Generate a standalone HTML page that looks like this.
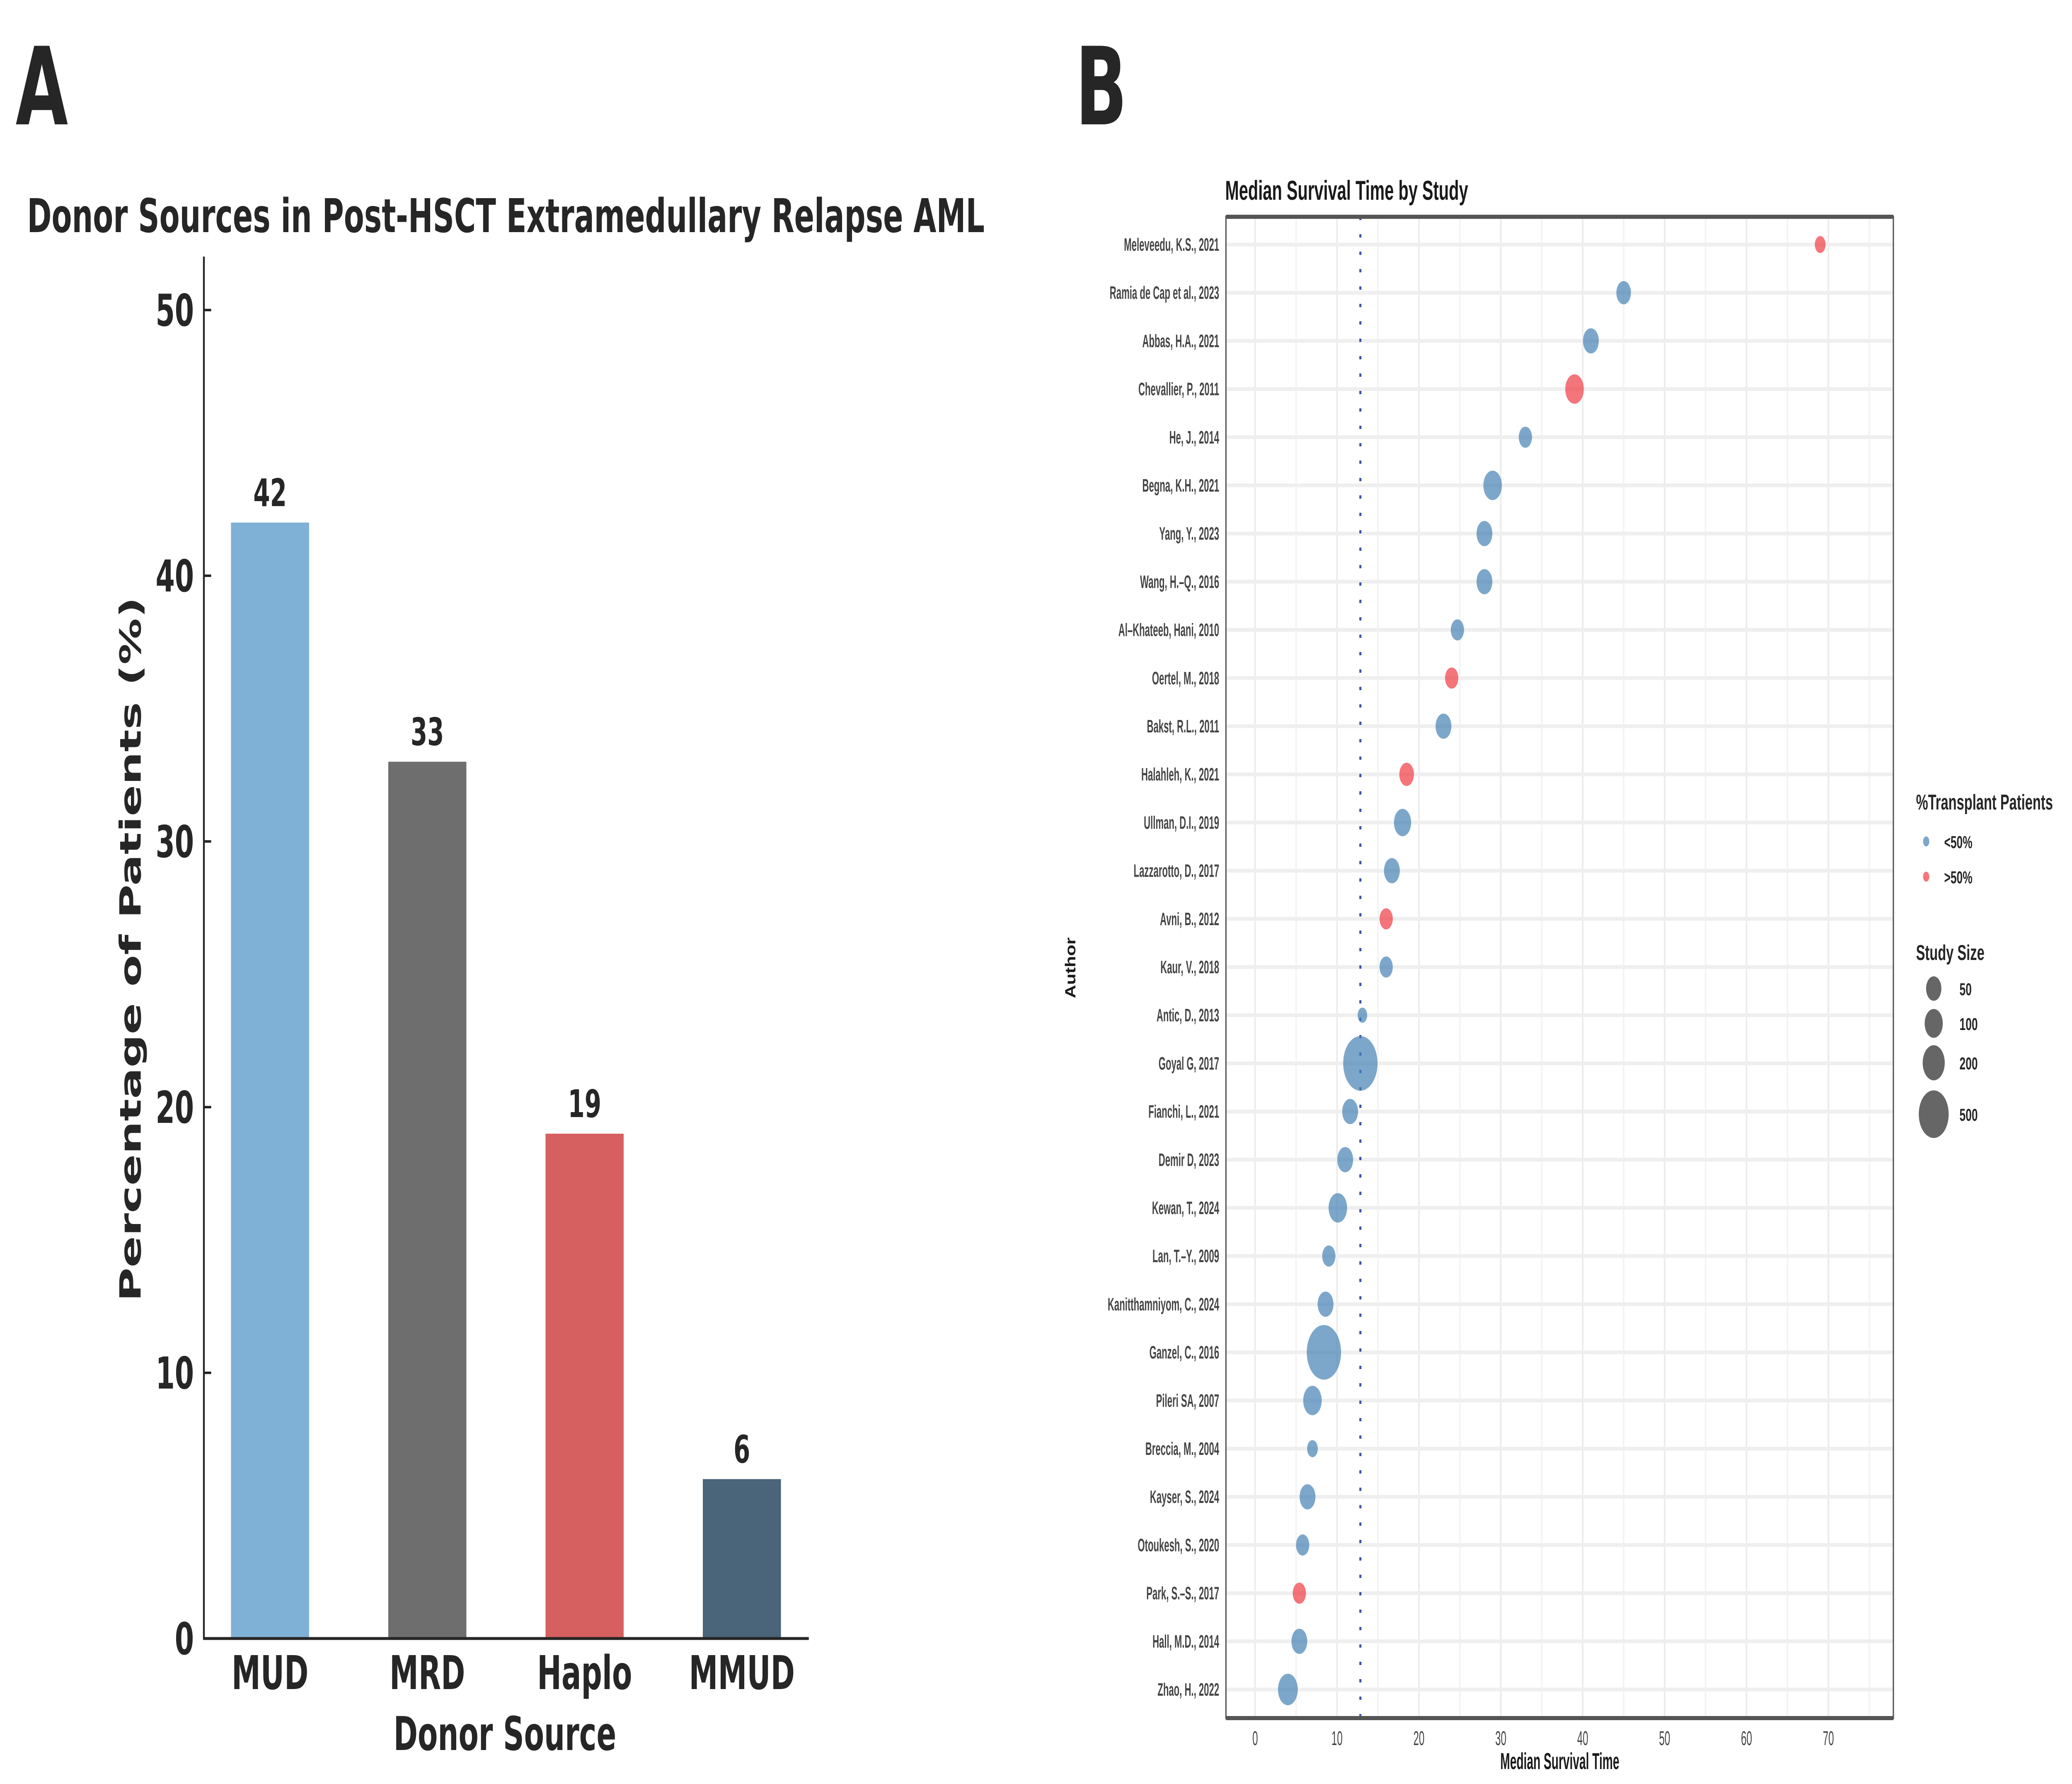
<!DOCTYPE html>
<html><head><meta charset="utf-8"><style>
html,body{margin:0;padding:0;background:#fff;overflow:hidden;width:100vw;height:100vh;}
svg{display:block;width:100vw;height:100vh;}
</style></head><body>
<svg id="fig" xmlns="http://www.w3.org/2000/svg" viewBox="0 0 7957 4304" preserveAspectRatio="none">
<rect width="7957" height="4304" fill="#fff"/>
<g id="panelA"></g>
<g id="panelB"></g>
</svg>
<script>
// ---- Panel A data ----
const donorCategories = ["MUD","MRD","Haplo","MMUD"];
const donorValues = [42,33,19,6];
const donorColors = ["#7fb0d6","#6e6e6e","#d65f5f","#4a6479"];
const aTicks = [0,10,20,30,40,50];

// ---- Panel B data ----
const authors = ["Meleveedu, K.S., 2021","Ramia de Cap et al., 2023","Abbas, H.A., 2021","Chevallier, P., 2011","He, J., 2014","Begna, K.H., 2021","Yang, Y., 2023","Wang, H.\u2013Q., 2016","Al\u2013Khateeb, Hani, 2010","Oertel, M., 2018","Bakst, R.L., 2011","Halahleh, K., 2021","Ullman, D.I., 2019","Lazzarotto, D., 2017","Avni, B., 2012","Kaur, V., 2018","Antic, D., 2013","Goyal G, 2017","Fianchi, L., 2021","Demir D, 2023","Kewan, T., 2024","Lan, T.\u2013Y., 2009","Kanitthamniyom, C., 2024","Ganzel, C., 2016","Pileri SA, 2007","Breccia, M., 2004","Kayser, S., 2024","Otoukesh, S., 2020","Park, S.\u2013S., 2017","Hall, M.D., 2014","Zhao, H., 2022"];
const survival = [69,45,41,39,33,29,28,28,24.7,24,23,18.5,18,16.7,16,16,13.1,12.85,11.6,11,10.1,9,8.6,8.4,7,7,6.4,5.8,5.4,5.4,4];
const studySize = [5,40,58,108,24,108,58,58,24,24,58,40,81,58,24,24,1,730,58,58,108,24,58,730,108,5,58,24,24,58,138];
const transplantGroup = [">50%","<50%","<50%",">50%","<50%","<50%","<50%","<50%","<50%",">50%","<50%",">50%","<50%","<50%",">50%","<50%","<50%","<50%","<50%","<50%","<50%","<50%","<50%","<50%","<50%","<50%","<50%","<50%",">50%","<50%","<50%"];
const medianLine = 12.85;
const bTicks = [0,10,20,30,40,50,60,70];
const sizeLegend = [50,100,200,500];

const NS = "http://www.w3.org/2000/svg";
function mk(parent, tag, attrs, text){
  const e = document.createElementNS(NS, tag);
  for (const k in attrs) e.setAttribute(k, attrs[k]);
  if (text !== undefined) e.textContent = text;
  parent.appendChild(e);
  return e;
}
const A = document.getElementById('panelA');
const B = document.getElementById('panelB');
const dj = "DejaVu Sans, Liberation Sans, sans-serif";
const nar = "Liberation Sans, DejaVu Sans, sans-serif";

// ===== Panel A =====
const ay = v => 3953 - v * 64.1;
const ax0 = 783, ax1 = 3106;
const barCenters = i => 1037 + i * 604;
let t;
t = mk(A,'text',{x:60,y:300,'font-family':dj,'font-weight':'bold','font-size':260,fill:'#262626'},'A');
 
t = mk(A,'text',{x:104,y:560,'font-family':dj,'font-weight':'bold','font-size':112,fill:'#262626',textLength:3677,lengthAdjust:'spacingAndGlyphs'},'Donor Sources in Post-HSCT Extramedullary Relapse AML');
 
donorValues.forEach((v,i)=>{
  const cx = barCenters(i);
  const r = mk(A,'rect',{x:cx-150,y:ay(v),width:300,height:ay(0)-ay(v),fill:donorColors[i]});
  
  
  const l = mk(A,'text',{x:cx,y:ay(v)-40,'text-anchor':'middle','font-family':dj,'font-weight':'bold','font-size':92,fill:'#262626'},String(v));
  
  
  const xl = mk(A,'text',{x:cx,y:4075,'text-anchor':'middle','font-family':dj,'font-weight':'bold','font-size':112,fill:'#262626'},donorCategories[i]);
  
  
});
t = mk(A,'line',{x1:ax0,y1:619,x2:ax0,y2:3955,stroke:'#262626','stroke-width':7});
 
t = mk(A,'line',{x1:ax0-3,y1:3953,x2:ax1,y2:3953,stroke:'#262626','stroke-width':7});
 
aTicks.forEach(v=>{
  const tk = mk(A,'line',{x1:ax0,y1:ay(v),x2:ax0+28,y2:ay(v),stroke:'#262626','stroke-width':6});
  
  
  const tl = mk(A,'text',{x:745,y:ay(v)+38,'text-anchor':'end','font-family':dj,'font-weight':'bold','font-size':106,fill:'#262626'},String(v));
  
  
});
t = mk(A,'text',{x:0,y:0,transform:'translate(540,2290) rotate(-90)','text-anchor':'middle','font-family':dj,'font-weight':'bold','font-size':112,fill:'#262626'},'Percentage of Patients (%)');
 
t = mk(A,'text',{x:1939,y:4222,'text-anchor':'middle','font-family':dj,'font-weight':'bold','font-size':112,fill:'#262626'},'Donor Source');
 

// ===== Panel B =====
const bx = v => 4820 + v * 31.45;
const by = i => 590 + i * 116.2;
const pL = 4708, pR = 7271, pT = 523, pB = 4145;
const sz = n => (33 + 3.66 * Math.sqrt(n)) / 2;
t = mk(B,'text',{x:4130,y:300,'font-family':dj,'font-weight':'bold','font-size':260,fill:'#262626'},'B');
 
t = mk(B,'text',{x:4705,y:482,'font-family':nar,'font-weight':'bold','font-size':66,fill:'#1a1a1a',textLength:933,lengthAdjust:'spacingAndGlyphs'},'Median Survival Time by Study');
 
for (let v=0; v<=75; v+=5){
  const g = mk(B,'line',{x1:bx(v),y1:pT,x2:bx(v),y2:pB,stroke:v%10===0?'#ebebeb':'#f3f3f3','stroke-width':6});
  
  
}
authors.forEach((a,i)=>{
  const g = mk(B,'line',{x1:pL,y1:by(i),x2:pR,y2:by(i),stroke:'#efefef','stroke-width':9});
  
  
});
t = mk(B,'line',{x1:bx(medianLine),y1:pT,x2:bx(medianLine),y2:pB,stroke:'#3f4fa8','stroke-width':8,'stroke-dasharray':'8 34'});
 
authors.forEach((a,i)=>{
  const red = transplantGroup[i] === ">50%";
  const c = mk(B,'circle',{cx:bx(survival[i]),cy:by(i),r:sz(studySize[i]),fill:red?'#ef3b42':'#4682b4','fill-opacity':0.7});
  
  
  const l = mk(B,'text',{transform:'translate(4682,'+(by(i)+15)+') scale(0.8,1)','text-anchor':'end','font-family':nar,'font-weight':'bold','font-size':44,fill:'#444'},a);
  
  
});
t = mk(B,'rect',{x:pL,y:pT,width:pR-pL,height:pB-pT,fill:'none',stroke:'#555','stroke-width':5});
 
t = mk(B,'line',{x1:pL,y1:pT,x2:pR,y2:pT,stroke:'#555','stroke-width':10});
 
t = mk(B,'line',{x1:pL,y1:pB,x2:pR,y2:pB,stroke:'#555','stroke-width':10});
 
bTicks.forEach(v=>{
  const l = mk(B,'text',{transform:'translate('+bx(v)+',4210) scale(0.8,1)','text-anchor':'middle','font-family':nar,'font-size':48,fill:'#444'},String(v));
  
  
});
t = mk(B,'text',{transform:'translate(5990,4268) scale(0.8,1)','text-anchor':'middle','font-family':nar,'font-weight':'bold','font-size':56,fill:'#1a1a1a'},'Median Survival Time');
 
t = mk(B,'text',{transform:'translate(4130,2335) rotate(-90) scale(0.8,1)','text-anchor':'middle','font-family':nar,'font-weight':'bold','font-size':56,fill:'#1a1a1a'},'Author');
 
t = mk(B,'text',{x:7358,y:1953,'font-family':nar,'font-weight':'bold','font-size':52,fill:'#262626'},'%Transplant Patients');
 
[["<50%","#4682b4",2030],[">50%","#ef3b42",2115]].forEach(d=>{
  const c = mk(B,'circle',{cx:7397,cy:d[2],r:12,fill:d[1],'fill-opacity':0.7});
  
  
  const l = mk(B,'text',{x:7466,y:d[2]+16,'font-family':nar,'font-weight':'bold','font-size':42,fill:'#262626'},d[0]);
  
  
});
t = mk(B,'text',{x:7358,y:2316,'font-family':nar,'font-weight':'bold','font-size':52,fill:'#262626'},'Study Size');
 
const legY = [2385,2469,2564,2688];
sizeLegend.forEach((n,i)=>{
  const c = mk(B,'circle',{cx:7426,cy:legY[i],r:sz(n),fill:'#666'});
  
  
  const l = mk(B,'text',{x:7525,y:legY[i]+16,'font-family':nar,'font-weight':'bold','font-size':42,fill:'#262626'},String(n));
  
  
});
</script>
</body></html>
